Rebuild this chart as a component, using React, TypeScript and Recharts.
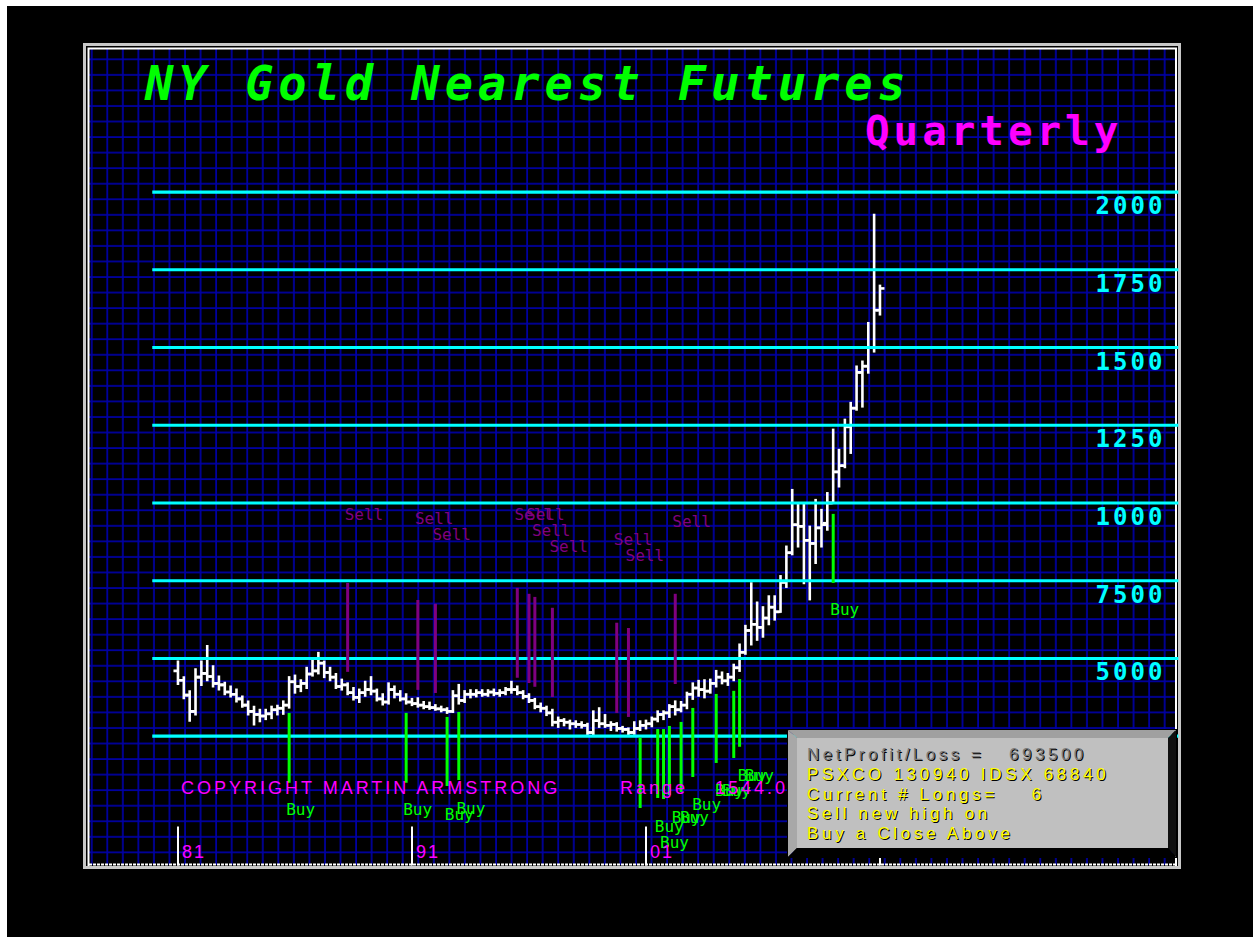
import React from "react";
import { ComposedChart, Bar, Line, Scatter, XAxis, YAxis, ReferenceLine } from "recharts";

// quarterly bars, one per quarter from Q4 1981 (index 0) to Q4 2011 (index 120)
const OPEN = [
  460, 430, 382, 330, 440, 452, 442, 420, 415, 392, 385, 370, 350, 330, 320, 315, 322, 335, 340, 350,
  425, 410, 420, 450, 460, 485, 455, 440, 410, 415, 390, 375, 390, 400, 395, 370, 360, 400, 385, 370,
  360, 355, 350, 345, 342, 338, 335, 330, 380, 365, 385, 385, 390, 385, 392, 388, 390, 400, 400, 390,
  378, 365, 345, 340, 325, 295, 300, 295, 290, 288, 285, 262, 300, 290, 285, 288, 275, 272, 262, 275,
  285, 290, 305, 320, 325, 345, 335, 350, 385, 405, 400, 395, 420, 440, 428, 440, 470, 520, 590, 610,
  600, 630, 665, 650, 745, 840, 930, 925, 880, 870, 920, 935, 1000, 1100, 1120, 1245, 1305, 1420, 1440, 1500,
  1620,
];
const HIGH = [
  490, 440, 395, 465, 490, 540, 475, 442, 422, 410, 400, 378, 362, 345, 335, 335, 345, 348, 362, 440,
  445, 430, 470, 500, 518, 490, 470, 450, 432, 420, 405, 400, 425, 440, 400, 385, 420, 410, 395, 385,
  370, 372, 360, 358, 350, 345, 340, 395, 415, 395, 398, 398, 398, 398, 400, 398, 405, 425, 410, 395,
  385, 370, 355, 345, 335, 310, 305, 300, 298, 295, 290, 330, 340, 318, 295, 292, 280, 275, 295, 298,
  300, 310, 330, 330, 350, 362, 360, 390, 420, 428, 430, 432, 460, 455, 450, 480, 545, 605, 742, 680,
  665, 700, 700, 765, 860, 1042, 1000, 1000, 924, 1010, 978, 1032, 1236, 1171, 1268, 1322, 1439, 1455, 1579, 1927,
  1699,
];
const LOW = [
  418, 372, 300, 320, 415, 430, 410, 400, 385, 378, 362, 345, 320, 288, 298, 305, 308, 320, 322, 342,
  390, 395, 405, 445, 452, 440, 430, 405, 400, 385, 368, 360, 380, 385, 365, 352, 355, 375, 365, 355,
  350, 345, 340, 338, 335, 330, 325, 328, 355, 360, 375, 378, 380, 380, 382, 380, 385, 390, 385, 372,
  360, 340, 330, 318, 285, 280, 285, 275, 280, 278, 255, 255, 280, 280, 270, 268, 265, 255, 258, 270,
  275, 282, 298, 305, 312, 320, 330, 340, 370, 380, 375, 390, 410, 420, 415, 430, 460, 515, 545, 560,
  570, 610, 625, 650, 730, 835, 860, 742, 690, 807, 860, 914, 1000, 1053, 1115, 1161, 1300, 1310, 1419, 1487,
  1606,
];
const CLOSE = [
  430, 382, 330, 440, 452, 442, 420, 415, 392, 385, 370, 350, 330, 320, 315, 322, 335, 340, 350, 425,
  410, 420, 450, 460, 485, 455, 440, 410, 415, 390, 375, 390, 400, 395, 370, 360, 400, 385, 370, 360,
  355, 350, 345, 342, 338, 335, 330, 380, 365, 385, 385, 390, 385, 392, 388, 390, 400, 400, 390, 378,
  365, 345, 340, 325, 295, 300, 295, 290, 288, 285, 262, 300, 290, 285, 288, 275, 272, 262, 275, 285,
  290, 305, 320, 325, 345, 335, 350, 385, 405, 400, 395, 420, 440, 428, 440, 470, 520, 590, 610, 600,
  630, 665, 650, 745, 840, 930, 925, 880, 870, 920, 930, 1000, 1100, 1120, 1245, 1305, 1420, 1440, 1500, 1620,
  1690,
];

// horizontal levels and the labels printed under them
const LEVELS = [2000, 1750, 1500, 1250, 1000, 750, 500, 250];
const LEVEL_TICKS = [2000, 1750, 1500, 1250, 1000, 750, 500];
const LEVEL_LABELS = ["2000", "1750", "1500", "1250", "1000", "7500", "5000"];

// decade ticks (bar index) and labels
const YEAR_TICKS = [0, 40, 80, 120];
const YEAR_LABELS = ["81", "91", "01", "11"];

// sell signals: bar index, line low / high, label level
const SELL_T = [29, 41, 44, 58, 60, 61, 64, 75, 77, 85];
const SELL_LOW = [457, 399, 389, 438, 421, 409, 376, 325, 312, 418];
const SELL_HIGH = [743, 688, 676, 727, 708, 698, 663, 615, 598, 708];
const SELL_LABEL_P = [962, 949, 898, 962, 962, 911, 859, 882, 830, 940];

// buy signals: bar index, line low / high, label position
const BUY_T = [19, 39, 46, 48, 79, 82, 83, 84, 86, 88, 92, 95, 96, 112];
const BUY_LOW = [100, 100, 90, 109, 19, 51, 48, 61, 71, 119, 164, 180, 216, 743];
const BUY_HIGH = [325, 325, 312, 328, 245, 273, 273, 283, 296, 341, 386, 396, 434, 965];
const BUY_LABEL_T = [18.5, 38.5, 45.6, 47.6, 82.4, 81.5, 84.4, 85.8, 87.9, 91.8, 93.0, 95.7, 96.9, 111.5];
const BUY_LABEL_P = [13, 13, -3, 19, -93, -39, -13, -13, 32, 77, 77, 125, 125, 656];

const NB = "\u00a0";
const BOX_TITLE = `NetProfit/Loss =${NB}${NB}${NB}693500`;
const BOX_LINES = [
  "PSXCO 130940 IDSX 68840",
  `Current # Longs=${NB}${NB}${NB}${NB}6`,
  "Sell new high on",
  "Buy a Close Above",
];

const bars = OPEN.map((o, i) => ({ t: i, range: [LOW[i], HIGH[i]], open: o, close: CLOSE[i] }));
const sellLabels = SELL_T.map((t, i) => ({ t: t - 0.5, p: SELL_LABEL_P[i] }));
const buyLabels = BUY_T.map((_, i) => ({ t: BUY_LABEL_T[i], p: BUY_LABEL_P[i] }));

const MONO = "DejaVu Sans Mono";
const SANS = "Liberation Sans";

const OhlcBar = (props: any) => {
  const { x, y, width, height, payload } = props;
  const cx = x + width / 2;
  const top = Math.min(y, y + height);
  const h = Math.abs(height);
  const [lo, hi] = payload.range;
  const py = (v: number) => top + ((hi - v) / (hi - lo || 1)) * h;
  return (
    <g stroke="#ffffff" strokeWidth={2.6}>
      <line x1={cx} x2={cx} y1={top - 1} y2={top + h + 1} />
      <line x1={cx - 4.5} x2={cx} y1={py(payload.open)} y2={py(payload.open)} />
      <line x1={cx} x2={cx + 4.5} y1={py(payload.close)} y2={py(payload.close)} />
    </g>
  );
};

const signalLabel = (text: string, color: string) => (props: any) => (
  <text x={props.cx} y={props.cy} fill={color} fontFamily={MONO} fontSize={16} dominantBaseline="central">
    {text}
  </text>
);

const PriceTick = (props: any) => {
  const { x, y, payload } = props;
  const label = LEVEL_LABELS[LEVEL_TICKS.indexOf(payload.value)];
  return (
    <text x={x - 13} y={y + 22} textAnchor="end" fill="#00ffff" fontFamily={MONO} fontWeight="bold" fontSize={24} letterSpacing={3}>
      {label}
    </text>
  );
};

const YearTick = (props: any) => {
  const { x, y, payload } = props;
  const label = YEAR_LABELS[YEAR_TICKS.indexOf(payload.value)];
  return (
    <g>
      <line x1={x} x2={x} y1={y - 34} y2={y + 5} stroke="#ffffff" strokeWidth={2} />
      <text x={x + 4} y={y - 3} fill="#ff00ff" fontFamily={SANS} fontSize={18} letterSpacing={2}>
        {label}
      </text>
    </g>
  );
};

export default function App() {
  return (
    <div style={{ position: "fixed", left: 0, top: 0, width: 1253, height: 937, background: "#ffffff", overflow: "hidden" }}>
      {/* page, panel frame and grid */}
      <svg width={1253} height={937} style={{ position: "absolute", left: 0, top: 0 }}>
        <defs>
          <pattern id="grid" patternUnits="userSpaceOnUse" x={90.7} y={58.3} width={15.55} height={15.55}>
            <rect x={0.2} y={0} width={1.7} height={15.55} fill="#0000a8" />
            <rect x={0} y={0.2} width={15.55} height={1.7} fill="#0000a8" />
          </pattern>
        </defs>
        <rect x={7} y={6} width={1246} height={931} fill="#000000" />
        <rect x={89} y={49} width={1087} height={816} fill="url(#grid)" />
        <rect x={84.5} y={44.5} width={1095} height={823} fill="none" stroke="#c8c8c8" strokeWidth={3} />
        <path d="M88.5 866 V48.5 H1176 V866" fill="none" stroke="#ffffff" strokeWidth={2} />
        <line x1={89} x2={1176} y1={864.5} y2={864.5} stroke="#ffffff" strokeWidth={2} strokeDasharray="3 1" />
      </svg>

      <div style={{ position: "absolute", left: 0, top: 0 }}>
        <ComposedChart width={1253} height={937} data={bars} margin={{ top: 52.1, right: 73.65, bottom: 75.4, left: 107.8 }}>
          <XAxis
            dataKey="t"
            type="number"
            domain={[-12, 171]}
            allowDataOverflow
            ticks={YEAR_TICKS}
            interval={0}
            height={1}
            tickSize={0}
            tickMargin={0}
            axisLine={false}
            tickLine={false}
            tick={<YearTick />}
          />
          <YAxis
            type="number"
            orientation="right"
            domain={[-150, 2450]}
            allowDataOverflow
            ticks={LEVEL_TICKS}
            interval={0}
            width={1}
            tickSize={0}
            tickMargin={0}
            axisLine={false}
            tickLine={false}
            tick={<PriceTick />}
          />
          {LEVELS.map((lv) => (
            <ReferenceLine
              key={lv}
              segment={[{ x: -4.4, y: lv }, { x: 171, y: lv }]}
              stroke="#00ffff"
              strokeWidth={3.2}
            />
          ))}
          {SELL_T.map((t, i) => (
            <Line
              key={"s" + t}
              data={[{ t, p: SELL_LOW[i] }, { t, p: SELL_HIGH[i] }]}
              dataKey="p"
              stroke="#800080"
              strokeWidth={3}
              dot={false}
              activeDot={false}
              isAnimationActive={false}
            />
          ))}
          {BUY_T.map((t, i) => (
            <Line
              key={"b" + t}
              data={[{ t, p: BUY_LOW[i] }, { t, p: BUY_HIGH[i] }]}
              dataKey="p"
              stroke="#00ff00"
              strokeWidth={3}
              dot={false}
              activeDot={false}
              isAnimationActive={false}
            />
          ))}
          <Bar dataKey="range" barSize={8} shape={OhlcBar} isAnimationActive={false} />
          <Scatter data={sellLabels} dataKey="p" shape={signalLabel("Sell", "#800080")} isAnimationActive={false} />
          <Scatter data={buyLabels} dataKey="p" shape={signalLabel("Buy", "#00ff00")} isAnimationActive={false} />
        </ComposedChart>
      </div>

      {/* titles, notes and the results box */}
      <svg width={1253} height={937} style={{ position: "absolute", left: 0, top: 0, pointerEvents: "none" }}>
        <text x={145} y={100} fill="#00ff00" fontFamily={MONO} fontWeight="bold" fontStyle="italic" fontSize={47} letterSpacing={5}>
          NY Gold Nearest Futures
        </text>
        <text x={865} y={145} fill="#ff00ff" fontFamily={MONO} fontWeight="bold" fontSize={41} letterSpacing={3.9}>
          Quarterly
        </text>
        <text x={181} y={794} fill="#ff00ff" fontFamily={SANS} fontSize={18} letterSpacing={3}>
          COPYRIGHT MARTIN ARMSTRONG
        </text>
        <text x={620} y={794} fill="#ff00ff" fontFamily={SANS} fontSize={18} letterSpacing={3}>
          Range
        </text>
        <text x={715} y={794} fill="#ff00ff" fontFamily={SANS} fontSize={18} letterSpacing={3}>
          1544.0
        </text>

        <polygon points="787,729 1177,729 1168,738 797,738" fill="#a0a0a0" />
        <polygon points="787,729 797,738 797,848 787,858" fill="#a8a8a8" />
        <polygon points="1177,729 1177,858 1168,848 1168,738" fill="#101010" />
        <polygon points="787,858 1177,858 1168,848 797,848" fill="#000000" />
        <rect x={797} y={738} width={371} height={110} fill="#c0c0c0" />
        <rect x={787.5} y={729.5} width={389} height={128} fill="none" stroke="#000000" strokeWidth={1} />

        <text x={808} y={761} fill="#000000" fontFamily={SANS} fontSize={17} letterSpacing={3.5}>
          {BOX_TITLE}
        </text>
        <text x={807} y={760} fill="#7a7a7a" fontFamily={SANS} fontSize={17} letterSpacing={3.5}>
          {BOX_TITLE}
        </text>
        {BOX_LINES.map((s, i) => (
          <g key={s}>
            <text x={808} y={781 + i * 19.7} fill="#000000" fontFamily={SANS} fontSize={17} letterSpacing={3.7}>
              {s}
            </text>
            <text x={807} y={780 + i * 19.7} fill="#ffff00" fontFamily={SANS} fontSize={17} letterSpacing={3.7}>
              {s}
            </text>
          </g>
        ))}
      </svg>
    </div>
  );
}
